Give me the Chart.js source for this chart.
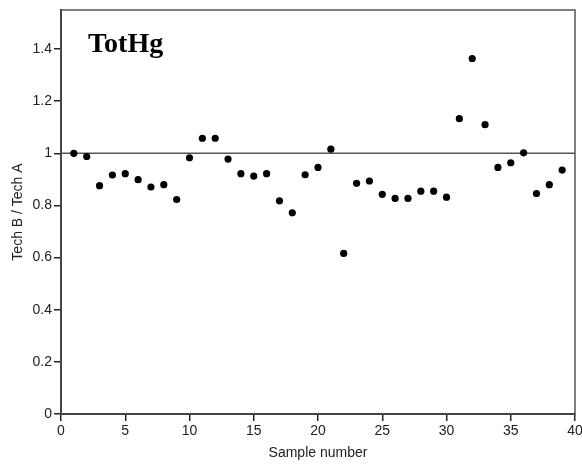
<!DOCTYPE html>
<html>
<head>
<meta charset="utf-8">
<script src="https://cdn.jsdelivr.net/npm/chart.js@4.4.1/dist/chart.umd.min.js"></script>
<style>
html,body{margin:0;padding:0;background:#fff;}
#wrap{width:582px;height:465px;}
</style>
</head>
<body>
<div id="wrap"><canvas id="c" width="582" height="465"></canvas></div>
<script>
const chartTitle = "TotHg";
const xAxisTitle = "Sample number";
const yAxisTitle = "Tech B / Tech A";
const sampleNumbers = [1,2,3,4,5,6,7,8,9,10,11,12,13,14,15,16,17,18,19,20,21,22,23,24,25,26,27,28,29,30,31,32,33,34,35,36,37,38,39];
const ratios = [1.000,0.988,0.876,0.917,0.922,0.899,0.871,0.880,0.823,0.983,1.058,1.058,0.978,0.922,0.913,0.922,0.818,0.772,0.918,0.946,1.016,0.616,0.885,0.894,0.843,0.827,0.827,0.855,0.855,0.832,1.133,1.364,1.110,0.946,0.964,1.002,0.846,0.880,0.936];
const referenceLineY = 1;
const xTicks = [0,5,10,15,20,25,30,35,40];
const xTickLabels = ["0","5","10","15","20","25","30","35","40"];
const yTicks = [0,0.2,0.4,0.6,0.8,1,1.2,1.4];
const yTickLabels = ["0","0.2","0.4","0.6","0.8","1","1.2","1.4"];
const xRange = [0,40];
const yRange = [0,1.55];

const points = sampleNumbers.map((n,i)=>({x:n,y:ratios[i]}));
const refLine = [{x:xRange[0],y:referenceLineY},{x:xRange[1],y:referenceLineY}];

const framePlugin = {
  id:'frame',
  beforeDatasetsDraw(chart){
    const {ctx, chartArea:a} = chart;
    ctx.save();
    ctx.strokeStyle = '#555';
    ctx.lineWidth = 1.5;
    ctx.strokeRect(a.left, a.top, a.right - a.left, a.bottom - a.top);
    ctx.restore();
  },
  afterDraw(chart){
    const {ctx, chartArea:a} = chart;
    ctx.save();
    ctx.fillStyle = '#000';
    ctx.font = 'bold 28px "Liberation Serif", "Times New Roman", serif';
    ctx.textBaseline = 'alphabetic';
    ctx.textAlign = 'left';
    ctx.fillText(chartTitle, a.left + 27, 52);
    ctx.restore();
  }
};

const tickFont = {family:'"Liberation Sans", Arial, sans-serif', size:14};

new Chart(document.getElementById('c'), {
  type:'scatter',
  data:{
    datasets:[
      {
        type:'line',
        data:refLine,
        borderColor:'#555',
        borderWidth:1.5,
        pointRadius:0,
        fill:false,
        order:2
      },
      {
        data:points,
        backgroundColor:'#000',
        borderWidth:0,
        pointRadius:3.6,
        pointHoverRadius:3.6,
        order:1
      }
    ]
  },
  options:{
    responsive:false,
    animation:false,
    events:[],
    layout:{padding:{top:10,right:7,left:0,bottom:0}},
    plugins:{legend:{display:false},tooltip:{enabled:false}},
    scales:{
      x:{
        type:'linear',
        min:xRange[0], max:xRange[1],
        afterBuildTicks(s){ s.ticks = xTicks.map(v=>({value:v})); },
        afterFit(s){ s.height = 51; s.paddingRight = 0; s.paddingLeft = 0; },
        ticks:{font:tickFont,color:'#222',padding:2,maxRotation:0,autoSkip:false,
          callback:(v)=>{ const i = xTicks.indexOf(v); return i>=0 ? xTickLabels[i] : ''; }},
        grid:{drawOnChartArea:false,drawTicks:true,tickLength:7,color:'#222',lineWidth:1.5},
        border:{display:true,color:'#111',width:2},
        title:{display:true,text:xAxisTitle,font:tickFont,color:'#222',padding:{top:0,bottom:3}}
      },
      y:{
        type:'linear',
        min:yRange[0], max:yRange[1],
        afterBuildTicks(s){ s.ticks = yTicks.map(v=>({value:v})); },
        afterFit(s){ s.width = 61; s.paddingTop = 0; s.paddingBottom = 0; },
        ticks:{font:tickFont,color:'#222',padding:2,autoSkip:false,
          callback:(v)=>{ const i = yTicks.findIndex(t=>Math.abs(t-v)<1e-9); return i>=0 ? yTickLabels[i] : ''; }},
        grid:{drawOnChartArea:false,drawTicks:true,tickLength:7,color:'#222',lineWidth:1.5},
        border:{display:true,color:'#111',width:2},
        title:{display:true,text:yAxisTitle,font:tickFont,color:'#222',padding:{top:10,bottom:0}}
      }
    }
  },
  plugins:[framePlugin]
});
</script>
</body>
</html>
